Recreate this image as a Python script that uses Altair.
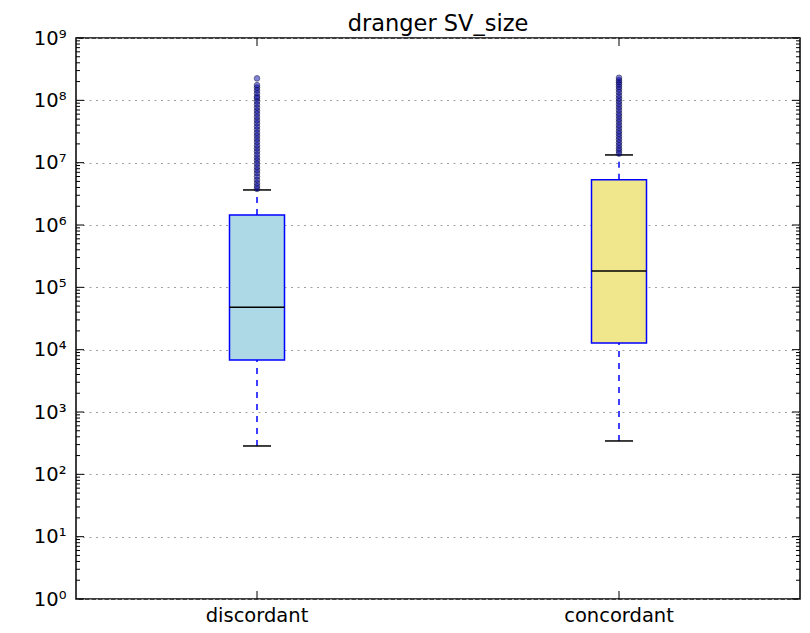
import altair as alt
import pandas as pd

# ---- data ----
title_text = "dranger SV_size"
categories = ["discordant", "concordant"]
whisker_low = [285, 343]
q1 = [6.8e3, 1.28e4]
median = [4.8e4, 1.83e5]
q3 = [1.45e6, 5.3e6]
whisker_high = [3.65e6, 1.33e7]

outliers_discordant = [3.8e6, 4.2e6, 4.7e6, 5.3e6, 6.0e6, 6.8e6, 7.6e6, 8.5e6, 9.6e6,
                       1.08e7, 1.2e7, 1.35e7, 1.52e7, 1.7e7, 1.9e7, 2.15e7, 2.4e7, 2.7e7,
                       3.0e7, 3.4e7, 3.8e7, 4.3e7, 4.8e7, 5.4e7, 6.1e7, 6.8e7, 7.6e7,
                       8.6e7, 9.6e7, 1.08e8, 1.15e8, 1.3e8, 1.45e8, 1.6e8, 1.75e8, 2.25e8]
outliers_concordant = [1.4e7, 1.55e7, 1.7e7, 1.9e7, 2.1e7, 2.35e7, 2.6e7, 2.9e7, 3.2e7,
                       3.6e7, 4.0e7, 4.5e7, 5.0e7, 5.6e7, 6.2e7, 7.0e7, 7.8e7, 8.7e7,
                       9.7e7, 1.08e8, 1.2e8, 1.35e8, 1.5e8, 1.65e8, 1.8e8, 1.95e8, 2.1e8, 2.3e8]

major_ticks = [1, 10, 100, 1e3, 1e4, 1e5, 1e6, 1e7, 1e8, 1e9]
minor_ticks = [m * d for d in major_ticks[:-1] for m in range(2, 10)]

FONT = "DejaVu Sans"
W, H = 724, 561

stats = pd.DataFrame({
    "category": categories, "lo": whisker_low, "q1": q1, "med": median,
    "q3": q3, "hi": whisker_high,
})
out_df = pd.DataFrame({
    "category": ["discordant"] * len(outliers_discordant) + ["concordant"] * len(outliers_concordant),
    "value": outliers_discordant + outliers_concordant,
})
major_df = pd.DataFrame({"v": major_ticks})
minor_df = pd.DataFrame({"v": minor_ticks})
cat_df = pd.DataFrame({"category": categories})
title_df = pd.DataFrame({"t": [title_text]})

xscale = alt.Scale(domain=categories, paddingInner=0, paddingOuter=0)
yscale = alt.Scale(type="log", domain=[1, 1e9], nice=False)

sup = "['\u2070','\u00b9','\u00b2','\u00b3','\u2074','\u2075','\u2076','\u2077','\u2078','\u2079']"

x_axis = alt.Axis(labelAngle=0, ticks=False, domain=False, labelFont=FONT,
                  labelFontSize=19.5, labelColor="black", labelPadding=7, grid=False)
y_axis = alt.Axis(values=major_ticks, ticks=False, domain=False,
                  labelExpr="'10' + " + sup + "[round(log(datum.value)/LN10)]",
                  labelFont=FONT, labelFontSize=19.5, labelColor="black",
                  labelPadding=10, grid=True, gridDash=[2, 4.5],
                  gridColor="#a0a0a0", gridWidth=1)


def X():
    return alt.X("category:N", scale=xscale, axis=x_axis, title=None)


def Y(field):
    return alt.Y(field, scale=yscale, axis=y_axis, title=None)


whisk_low = alt.Chart(stats).mark_rule(color="blue", strokeDash=[6, 6], strokeWidth=1.5).encode(
    x=X(), y=Y("lo:Q"), y2="q1:Q")
whisk_high = alt.Chart(stats).mark_rule(color="blue", strokeDash=[6, 6], strokeWidth=1.5).encode(
    x=X(), y=Y("q3:Q"), y2="hi:Q")

box = alt.Chart(stats).mark_bar(width=55, stroke="blue", strokeWidth=1.5).encode(
    x=X(), y=Y("q1:Q"), y2="q3:Q",
    fill=alt.Fill("category:N", scale=alt.Scale(domain=categories, range=["#ADD8E6", "#F0E68C"]),
                  legend=None))

med = alt.Chart(stats).mark_tick(size=55, thickness=1.5, color="black", opacity=1).encode(
    x=X(), y=Y("med:Q"))
cap_lo = alt.Chart(stats).mark_tick(size=28, thickness=1.5, color="black", opacity=1).encode(
    x=X(), y=Y("lo:Q"))
cap_hi = alt.Chart(stats).mark_tick(size=28, thickness=1.5, color="black", opacity=1).encode(
    x=X(), y=Y("hi:Q"))

pts = alt.Chart(out_df).mark_point(filled=False, size=32, shape="circle").encode(
    x=X(), y=Y("value:Q"),
    fill=alt.value("#0000b0"), fillOpacity=alt.value(0.7),
    stroke=alt.value("#000030"), strokeOpacity=alt.value(0.75), strokeWidth=alt.value(1))

# inward ticks on all four sides
tl_major = alt.Chart(major_df).mark_rule(color="black", strokeWidth=1).encode(
    y=Y("v:Q"), x=alt.value(0), x2=alt.value(8))
tr_major = alt.Chart(major_df).mark_rule(color="black", strokeWidth=1).encode(
    y=Y("v:Q"), x=alt.value(W), x2=alt.value(W - 8))
tl_minor = alt.Chart(minor_df).mark_rule(color="black", strokeWidth=1).encode(
    y=Y("v:Q"), x=alt.value(0), x2=alt.value(4))
tr_minor = alt.Chart(minor_df).mark_rule(color="black", strokeWidth=1).encode(
    y=Y("v:Q"), x=alt.value(W), x2=alt.value(W - 4))
tx_bot = alt.Chart(cat_df).mark_rule(color="black", strokeWidth=1).encode(
    x=X(), y=alt.value(H), y2=alt.value(H - 8))
tx_top = alt.Chart(cat_df).mark_rule(color="black", strokeWidth=1).encode(
    x=X(), y=alt.value(0), y2=alt.value(8))

title_mark = alt.Chart(title_df).mark_text(
    font=FONT, fontSize=22.5, color="black", baseline="alphabetic", align="center"
).encode(text="t:N", x=alt.value(W / 2), y=alt.value(-7))

chart = alt.layer(
    whisk_low, whisk_high, box, med, cap_lo, cap_hi, pts,
    tl_major, tr_major, tl_minor, tr_minor, tx_bot, tx_top, title_mark,
).properties(
    width=W, height=H,
    autosize=alt.AutoSizeParams(type="none"),
    padding={"left": 68, "top": 30, "right": 2, "bottom": 26},
).configure_view(stroke="black", strokeWidth=1.5)

chart.save("out.html", embed_options={"renderer": "svg", "actions": False})
